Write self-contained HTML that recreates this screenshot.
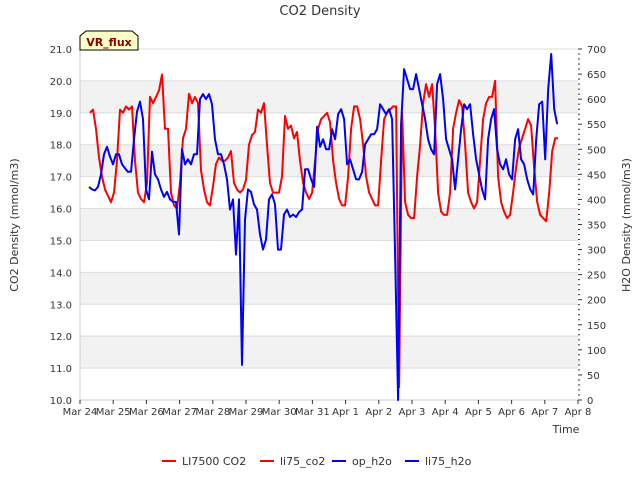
<!DOCTYPE html>
<html><head><meta charset="utf-8"><style>
body{margin:0;background:#fff;font-family:"Liberation Sans","DejaVu Sans",sans-serif}
svg text{font-family:"DejaVu Sans","Liberation Sans",sans-serif}
</style></head><body>
<svg id="c" width="640" height="480" xmlns="http://www.w3.org/2000/svg">
<text x="320" y="15" text-anchor="middle" font-size="13" fill="#333">CO2 Density</text>
<text transform="translate(18,225) rotate(-90)" text-anchor="middle" font-size="11" fill="#333">CO2 Density (mmol/m3)</text>
<text transform="translate(630,225) rotate(-90)" text-anchor="middle" font-size="11" fill="#333">H2O Density (mmol/m3)</text>
<text x="566" y="433" text-anchor="middle" font-size="11" fill="#333">Time</text>
<g id="bands"></g><g id="grid"></g><g id="ticks"></g><g id="series"></g>
<g><path d="M80,50 L80,36 L86,31 L132,31 L138,36 L138,50 Z" fill="#ffffc8" stroke="#000" stroke-width="1"/><text x="109" y="46" text-anchor="middle" font-size="11" font-weight="bold" fill="#8b0000">VR_flux</text></g>
<g id="legend"></g>
</svg>
<script>
const xTickLabels=["Mar 24","Mar 25","Mar 26","Mar 27","Mar 28","Mar 29","Mar 30","Mar 31","Apr 1","Apr 2","Apr 3","Apr 4","Apr 5","Apr 6","Apr 7","Apr 8"];
const leftTicks=[10,11,12,13,14,15,16,17,18,19,20,21];
const rightTicks=[0,50,100,150,200,250,300,350,400,450,500,550,600,650,700];
const co2Start=0.30, co2Step=0.0904;
const co2Values=[19.0,19.1,18.5,17.6,17.0,16.6,16.4,16.2,16.5,17.5,19.1,19.0,19.2,19.1,19.2,17.5,16.5,16.3,16.2,16.8,19.5,19.3,19.5,19.7,20.2,18.5,18.5,16.5,16.1,16.0,16.8,18.2,18.5,19.6,19.3,19.5,19.3,17.2,16.6,16.2,16.1,16.7,17.4,17.6,17.5,17.5,17.6,17.8,16.8,16.6,16.5,16.6,16.9,18.0,18.3,18.4,19.1,19.0,19.3,18.0,16.8,16.5,16.5,16.5,17.0,18.9,18.5,18.6,18.2,18.4,17.5,16.8,16.5,16.3,16.5,17.5,18.5,18.8,18.9,19.0,18.7,17.5,16.8,16.3,16.1,16.1,17.0,18.5,19.2,19.2,18.8,18.0,17.0,16.5,16.3,16.1,16.1,17.5,18.8,19.0,19.1,19.2,19.2,10.4,19.0,16.2,15.8,15.7,15.7,17.0,18.0,19.3,19.9,19.5,19.9,18.5,16.5,15.9,15.8,15.8,16.5,18.5,19.0,19.4,19.2,18.0,16.5,16.2,16.0,16.2,17.5,18.8,19.3,19.5,19.5,20.0,17.0,16.2,15.9,15.7,15.8,16.5,17.3,17.9,18.2,18.5,18.8,18.6,17.3,16.2,15.8,15.7,15.6,16.5,17.8,18.2,18.2];
const h2oStart=0.27, h2oStep=0.0904;
const h2oValues=[425,420,418,425,450,490,505,485,470,490,490,470,462,455,455,520,575,595,560,420,400,495,450,440,420,405,415,400,395,395,330,500,470,480,470,490,490,600,610,600,610,590,520,490,490,470,440,380,400,290,400,70,360,420,415,390,380,330,300,320,400,410,390,300,300,370,380,365,370,365,375,380,460,460,440,425,545,505,520,500,500,540,520,570,580,560,470,480,460,440,440,455,510,520,530,530,540,590,580,570,580,560,290,0,550,660,640,620,620,650,620,590,560,520,500,490,630,650,600,520,500,480,420,480,540,590,580,590,530,480,450,420,400,520,560,580,500,470,460,480,450,440,520,540,480,470,440,420,410,520,590,595,480,620,690,580,550];
const L=80,R=578,T=49,B=400;
const xs=d=>L+(R-L)*d/15;
const yL=v=>B-(B-T)*(v-10)/11;
const yR=v=>B-(B-T)*v/700;
const NS="http://www.w3.org/2000/svg";
function mk(p,tag,at){const e=document.createElementNS(NS,tag);for(const k in at)e.setAttribute(k,at[k]);document.getElementById(p).appendChild(e);return e;}
for(let v=11;v<21;v+=2){const b=mk('bands','rect',{x:L,y:yL(v+1),width:R-L,height:yL(v)-yL(v+1),fill:'#f2f2f2'});

}
leftTicks.forEach(v=>{const g=mk('grid','line',{x1:L,x2:R,y1:yL(v),y2:yL(v),stroke:'#ddd'});


const t=mk('ticks','text',{x:L-8,y:yL(v)+4,'text-anchor':'end','font-size':10,fill:'#333'});t.textContent=v.toFixed(1);

});
mk('grid','line',{x1:L,x2:L,y1:T,y2:B,stroke:'#ccc'});
mk('grid','line',{x1:L,x2:R,y1:B,y2:B,stroke:'#ccc'});
rightTicks.forEach(v=>{const t=mk('ticks','text',{x:R+9,y:yR(v)+4,'font-size':10,fill:'#333'});t.textContent=v;

});
for(let v=0;v<=700;v+=10){mk('ticks','line',{x1:R,x2:R+(v%50?2:4),y1:yR(v),y2:yR(v),stroke:'#333'});}
xTickLabels.forEach((s,i)=>{mk('ticks','line',{x1:xs(i),x2:xs(i),y1:B,y2:B+4,stroke:'#333'});
const t=mk('ticks','text',{x:xs(i),y:B+15,'text-anchor':'middle','font-size':10,fill:'#333'});t.textContent=s;

});
const co2Pts=co2Values.map((v,i)=>xs(co2Start+i*co2Step).toFixed(1)+','+yL(v).toFixed(1)).join(' ');
const r=mk('series','polyline',{points:co2Pts,fill:'none',stroke:'#ff0000','stroke-width':2,'stroke-linejoin':'round'});


const h2oPts=h2oValues.map((v,i)=>xs(h2oStart+i*h2oStep).toFixed(1)+','+yR(v).toFixed(1)).join(' ');
const b=mk('series','polyline',{points:h2oPts,fill:'none',stroke:'#0000ff','stroke-width':2,'stroke-linejoin':'round'});


const legendNames=["LI7500 CO2","li75_co2","op_h2o","li75_h2o"];
const legendColors=["#ff0000","#ff0000","#0000ff","#0000ff"];
const legendX=[162,260,332,405];
legendNames.forEach((n,i)=>{mk('legend','line',{x1:legendX[i],x2:legendX[i]+14,y1:461,y2:461,stroke:legendColors[i],'stroke-width':2});
const t=mk('legend','text',{x:legendX[i]+20,y:465,'font-size':11,fill:'#333'});t.textContent=n;

});
</script>
</body></html>
